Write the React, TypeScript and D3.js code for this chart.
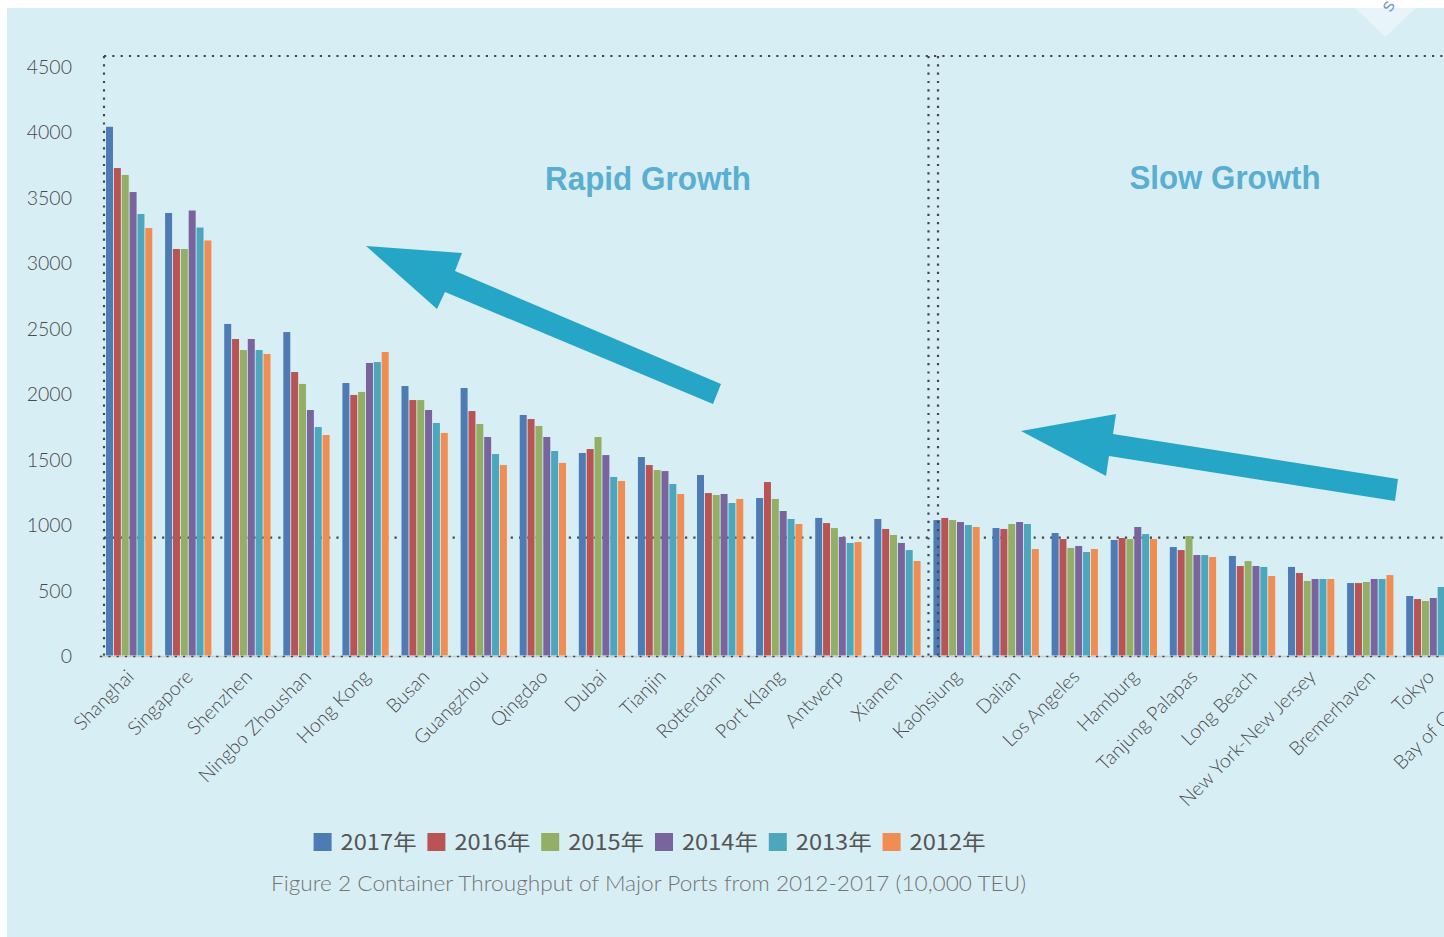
import React from "react";
import * as d3 from "d3";

const ports = [
  "Shanghai", "Singapore", "Shenzhen", "Ningbo Zhoushan", "Hong Kong", "Busan",
  "Guangzhou", "Qingdao", "Dubai", "Tianjin", "Rotterdam", "Port Klang",
  "Antwerp", "Xiamen", "Kaohsiung", "Dalian", "Los Angeles", "Hamburg",
  "Tanjung Palapas", "Long Beach", "New York-New Jersey", "Bremerhaven", "Tokyo",
  "Bay of Gibraltar",
];

const years = ["2017年", "2016年", "2015年", "2014年", "2013年", "2012年"];
const colors = ["#4E7BB4", "#B95455", "#93AF66", "#7A649D", "#4DA7BC", "#EF8D52"];

const v2017 = [4036, 3378, 2531, 2469, 2080, 2057, 2042, 1836, 1546, 1515, 1378, 1202, 1050, 1042, 1034, 973, 935, 882, 828, 760, 676, 553, 454, 440];
const v2016 = [3721, 3103, 2416, 2164, 1989, 1950, 1866, 1805, 1576, 1454, 1240, 1324, 1011, 966, 1050, 966, 889, 897, 805, 683, 630, 553, 431, 476];
const v2015 = [3668, 3103, 2332, 2073, 2012, 1950, 1767, 1752, 1668, 1416, 1225, 1195, 973, 920, 1034, 1004, 821, 889, 912, 721, 569, 561, 416, 452];
const v2014 = [3538, 3397, 2416, 1874, 2233, 1874, 1668, 1668, 1530, 1408, 1233, 1103, 905, 859, 1019, 1019, 836, 981, 767, 683, 584, 584, 439, 455];
const v2013 = [3370, 3267, 2332, 1744, 2240, 1775, 1538, 1561, 1363, 1309, 1164, 1042, 859, 805, 996, 1004, 790, 927, 767, 676, 584, 584, 523, 434];
const v2012 = [3263, 3168, 2302, 1683, 2317, 1699, 1454, 1470, 1332, 1233, 1195, 1004, 866, 721, 981, 813, 813, 889, 752, 607, 584, 614, 475, 407];
const series = [v2017, v2016, v2015, v2014, v2013, v2012];

const yTicks = [0, 500, 1000, 1500, 2000, 2500, 3000, 3500, 4000, 4500];
const threshold = 900;
const zoneLabels = ["Rapid Growth", "Slow Growth"];
const caption = "Figure 2 Container Throughput of Major Ports from 2012-2017 (10,000 TEU)";

const W = 1444;
const H = 937;

const arrowUpper: [number, number][] = [
  [366, 246], [462, 253], [455, 271], [721, 384], [713, 404], [445, 292], [437, 309],
];
const arrowLower: [number, number][] = [
  [1021, 431], [1116, 414], [1113, 434], [1398, 479], [1395, 501], [1109, 456], [1106, 476],
];

const DOT = { stroke: "#464646", strokeWidth: 2.2, strokeDasharray: "2.2 6.1" };

export default function App() {
  const step = 59.1;
  const x = d3
    .scaleBand<string>()
    .domain(ports)
    .range([99.6, 99.6 + ports.length * step])
    .paddingInner(0.217)
    .paddingOuter(0.1085);
  const xi = d3.scaleBand<string>().domain(years).range([0, x.bandwidth()]).paddingInner(0.11);
  const y = d3.scaleLinear().domain([0, 4500]).range([655.5, 66]);

  const axisFont = "Lato, 'Liberation Sans', sans-serif";
  const splitX = (x("Xiamen")! + x.bandwidth() + x("Kaohsiung")!) / 2;
  const poly = (pts: [number, number][]) => pts.map((p) => p.join(",")).join(" ");

  return (
    <svg
      width={W}
      height={H}
      style={{ position: "absolute", left: 0, top: 0, display: "block" }}
    >
      <rect x={7} y={8} width={W - 7} height={H - 8} fill="#D8EEF5" />
      {/* watermark corner */}
      <polygon points="1355,8 1416,8 1385,37" fill="#E7F4F9" />
      <text
        x={1388}
        y={12}
        fontSize={19}
        fontFamily="'Liberation Sans', sans-serif"
        fill="#7C9AC6"
        textAnchor="middle"
        transform="rotate(-60 1388 6)"
      >
        s
      </text>

      {/* threshold dotted line (behind bars) */}
      <line x1={104} x2={W} y1={y(threshold)} y2={y(threshold)} {...DOT} />

      {/* bars */}
      {series.map((vals, si) =>
        vals.map((v, pi) => (
          <rect
            key={`${si}-${pi}`}
            x={x(ports[pi])! + xi(years[si])!}
            y={y(v)}
            width={xi.bandwidth()}
            height={y(0) - y(v)}
            fill={colors[si]}
          />
        ))
      )}

      {/* frame lines */}
      <line x1={104} x2={W} y1={56} y2={56} {...DOT} />
      <line x1={104} x2={104} y1={56} y2={656} {...DOT} />
      <line x1={splitX + 1.5} x2={splitX + 1.5} y1={56} y2={656} {...DOT} />
      <line x1={splitX + 11} x2={splitX + 11} y1={56} y2={656} {...DOT} />
      <line x1={99} x2={W} y1={y(0) + 1} y2={y(0) + 1} stroke="#C9CDD0" strokeWidth={1.6} />
      <line x1={100} x2={W} y1={y(0) + 1} y2={y(0) + 1} {...DOT} strokeWidth={1.6} />

      {/* y ticks */}
      {yTicks.map((t) => (
        <text
          key={t}
          x={72}
          y={y(t) + 7.5}
          textAnchor="end"
          fontFamily={axisFont}
          fontWeight={300}
          fontSize={19.5}
          fill="#4A4A4A"
        >
          {t}
        </text>
      ))}

      {/* x labels */}
      {ports.map((p) => {
        const cx = x(p)! + x.bandwidth() / 2 + 6;
        const cy = 678;
        return (
          <text
            key={p}
            x={cx}
            y={cy}
            textAnchor="end"
            fontFamily={axisFont}
            fontWeight={300}
            fontSize={19.5}
            fill="#4A4A4A"
            transform={`rotate(-45 ${cx} ${cy})`}
          >
            {p}
          </text>
        );
      })}

      {/* arrows */}
      <polygon points={poly(arrowUpper)} fill="#26A6C7" />
      <polygon points={poly(arrowLower)} fill="#26A6C7" />

      {/* zone labels */}
      <text
        x={648}
        y={189.5}
        textAnchor="middle"
        fontFamily="'Liberation Sans', Arial, sans-serif"
        fontWeight="bold"
        fontSize={33}
        fill="#5AAFD0"
        textLength={206}
        lengthAdjust="spacingAndGlyphs"
      >
        {zoneLabels[0]}
      </text>
      <text
        x={1225}
        y={188.7}
        textAnchor="middle"
        fontFamily="'Liberation Sans', Arial, sans-serif"
        fontWeight="bold"
        fontSize={33}
        fill="#5AAFD0"
        textLength={191}
        lengthAdjust="spacingAndGlyphs"
      >
        {zoneLabels[1]}
      </text>

      {/* legend */}
      {years.map((yr, i) => {
        const lx = 313.6 + i * 113.8;
        return (
          <g key={yr}>
            <rect x={lx} y={833} width={18} height={18} fill={colors[i]} />
            <text
              x={lx + 27}
              y={850}
              fontFamily="'Noto Sans CJK SC', 'Noto Sans', sans-serif"
              fontSize={22}
              fill="#555555"
              textLength={76}
              lengthAdjust="spacingAndGlyphs"
            >
              {yr}
            </text>
          </g>
        );
      })}

      {/* caption */}
      <text
        x={271}
        y={891}
        fontFamily={axisFont}
        fontWeight={300}
        fontSize={21}
        fill="#747474"
        textLength={755}
        lengthAdjust="spacingAndGlyphs"
      >
        {caption}
      </text>
    </svg>
  );
}
